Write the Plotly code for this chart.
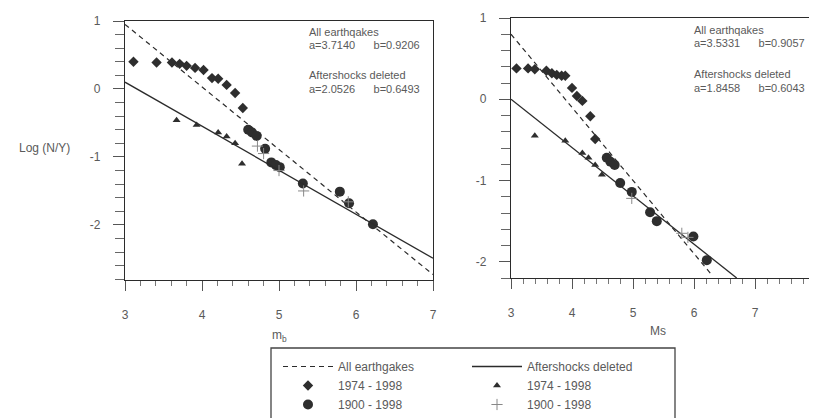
import plotly.graph_objects as go

W, H = 817, 418
OFF = 8  # page body margin offset in the browser

# ---- data: left panel (mb) ----
diam_l_x = [3.11, 3.41, 3.61, 3.71, 3.80, 3.91, 4.02, 4.13, 4.21, 4.32, 4.43, 4.53]
diam_l_y = [0.40, 0.39, 0.39, 0.37, 0.34, 0.31, 0.28, 0.16, 0.15, 0.06, -0.06, -0.28]
circ_l_x = [4.60, 4.65, 4.71, 4.82, 4.90, 4.96, 5.01, 5.31, 5.79, 5.91, 6.22]
circ_l_y = [-0.60, -0.64, -0.69, -0.88, -1.08, -1.12, -1.15, -1.39, -1.51, -1.68, -1.99]
tri_l_x = [3.67, 3.93, 4.21, 4.32, 4.43, 4.52]
tri_l_y = [-0.46, -0.53, -0.64, -0.70, -0.80, -1.10]
cross_l_x = [4.72, 4.80, 5.00, 5.32, 5.90]
cross_l_y = [-0.84, -0.95, -1.20, -1.50, -1.66]
dash_l_x = [3.0, 7.0]
dash_l_y = [0.95, -2.73]
solid_l_x = [3.0, 7.0]
solid_l_y = [0.10, -2.49]

# ---- data: right panel (Ms) ----
diam_r_x = [3.09, 3.28, 3.39, 3.58, 3.67, 3.75, 3.83, 3.89, 4.00, 4.08, 4.17, 4.30, 4.38]
diam_r_y = [0.38, 0.38, 0.37, 0.35, 0.32, 0.30, 0.29, 0.29, 0.14, 0.04, -0.02, -0.21, -0.49]
circ_r_x = [4.57, 4.63, 4.70, 4.79, 4.98, 5.28, 5.39, 5.99, 6.21]
circ_r_y = [-0.72, -0.77, -0.81, -1.03, -1.14, -1.39, -1.50, -1.69, -1.98]
tri_r_x = [3.39, 3.89, 4.17, 4.27, 4.38, 4.49]
tri_r_y = [-0.45, -0.51, -0.66, -0.72, -0.81, -0.93]
cross_r_x = [4.98, 5.80, 5.90]
cross_r_y = [-1.22, -1.65, -1.70]
dash_r_x = [3.0, 6.3]
dash_r_y = [0.80, -2.17]
solid_r_x = [3.0, 6.7]
solid_r_y = [0.0, -2.20]

# ---- text / ticks ----
left_text = ["All earthqakes", "a=3.7140      b=0.9206", "Aftershocks deleted", "a=2.0526      b=0.6493"]
right_text = ["All earthqakes", "a=3.5331      b=0.9057", "Aftershocks deleted", "a=1.8458      b=0.6043"]
y_ticks = [-2, -1, 0, 1]
y_ticktext = ["-2", "-1", "0", "1"]
x_ticks_left = [3, 4, 5, 6, 7]
x_ticks_right = [3, 4, 5, 6, 7]

LINE = "#2b2b2b"
MARK = "#2e2e2e"
TXT = "#5a5a5a"
FONT = "Liberation Sans, Arial, sans-serif"

fig = go.Figure()

def add_panel(xa, ya, dx, dy, sx, sy, dmx, dmy, cx, cy, tx, ty, kx, ky, show):
    fig.add_trace(go.Scatter(x=dx, y=dy, mode="lines", name="All earthgakes",
                             line=dict(color=LINE, width=1.2, dash="5px,4px"),
                             xaxis=xa, yaxis=ya, showlegend=show, legend="legend"))
    fig.add_trace(go.Scatter(x=dmx, y=dmy, mode="markers", name="1974 - 1998",
                             marker=dict(symbol="diamond", size=8, color=MARK),
                             xaxis=xa, yaxis=ya, showlegend=show, legend="legend"))
    fig.add_trace(go.Scatter(x=cx, y=cy, mode="markers", name="1900 - 1998",
                             marker=dict(symbol="circle", size=10, color=MARK),
                             xaxis=xa, yaxis=ya, showlegend=show, legend="legend"))
    fig.add_trace(go.Scatter(x=sx, y=sy, mode="lines", name="Aftershocks deleted",
                             line=dict(color=LINE, width=1.3),
                             xaxis=xa, yaxis=ya, showlegend=show, legend="legend2"))
    fig.add_trace(go.Scatter(x=tx, y=ty, mode="markers", name="1974 - 1998",
                             marker=dict(symbol="triangle-up", size=7, color=MARK),
                             xaxis=xa, yaxis=ya, showlegend=show, legend="legend2"))
    fig.add_trace(go.Scatter(x=kx, y=ky, mode="markers", name="1900 - 1998",
                             marker=dict(symbol="cross-thin", size=8, color="#888",
                                         line=dict(color="#888", width=1)),
                             xaxis=xa, yaxis=ya, showlegend=show, legend="legend2"))

add_panel("x", "y", dash_l_x, dash_l_y, solid_l_x, solid_l_y, diam_l_x, diam_l_y,
          circ_l_x, circ_l_y, tri_l_x, tri_l_y, cross_l_x, cross_l_y, True)
add_panel("x2", "y2", dash_r_x, dash_r_y, solid_r_x, solid_r_y, diam_r_x, diam_r_y,
          circ_r_x, circ_r_y, tri_r_x, tri_r_y, cross_r_x, cross_r_y, False)

def px_x(p):
    return (p - OFF) / W

def px_y(p):
    return 1 - (p - OFF) / H

axis_common = dict(showgrid=False, zeroline=False, showline=True, linecolor=LINE,
                   linewidth=1.3, ticks="outside", tickcolor="#555", tickwidth=1,
                   automargin=False,
                   tickfont=dict(size=12, color=TXT, family=FONT))

xcommon = dict(axis_common, ticklen=10, ticklabelstandoff=13,
               minor=dict(dtick=0.2, tick0=0, ticks="outside", ticklen=5, tickcolor="#777", showgrid=False))
ycommon = dict(axis_common, tickvals=y_ticks, ticktext=y_ticktext, ticklen=11,
               ticklabelstandoff=10,
               minor=dict(dtick=0.2, tick0=0, ticks="outside", ticklen=9, tickcolor="#666", showgrid=False))

fig.update_layout(
    width=W, height=H,
    margin=dict(l=0, r=0, t=0, b=0, autoexpand=False),
    paper_bgcolor="white", plot_bgcolor="white",
    font=dict(family=FONT, color=TXT),
    xaxis=dict(xcommon, tickvals=x_ticks_left, domain=[px_x(125), px_x(433)], range=[3, 7],
               anchor="y", mirror=True),
    yaxis=dict(ycommon, domain=[px_y(280), px_y(21)], range=[-2.81, 1], anchor="x", mirror=True),
    xaxis2=dict(xcommon, tickvals=x_ticks_right, domain=[px_x(511), px_x(816)], range=[3, 8],
                anchor="y2", mirror=True),
    yaxis2=dict(ycommon, domain=[px_y(278), px_y(18)], range=[-2.2, 1], anchor="x2"),
    legend=dict(x=px_x(278), y=px_y(352), xanchor="left", yanchor="top",
                bgcolor="rgba(0,0,0,0)", font=dict(size=12, color=TXT, family=FONT),
                itemwidth=50, tracegroupgap=0),
    legend2=dict(x=px_x(467), y=px_y(352), xanchor="left", yanchor="top",
                 bgcolor="rgba(0,0,0,0)", font=dict(size=12, color=TXT, family=FONT),
                 itemwidth=50, tracegroupgap=0),
    showlegend=True,
)

# legend frame
fig.add_shape(type="rect", xref="paper", yref="paper",
              x0=px_x(271), x1=px_x(675), y0=px_y(440), y1=px_y(348),
              line=dict(color="#444", width=1.3), fillcolor="rgba(0,0,0,0)")

ann = []
for t, yy in zip(left_text, [32, 45, 75, 89]):
    ann.append(dict(text=t, x=px_x(307), y=px_y(yy), xref="paper", yref="paper",
                    xanchor="left", yanchor="middle", showarrow=False,
                    font=dict(size=11, color=TXT, family=FONT)))
for t, yy in zip(right_text, [30, 43, 74, 88]):
    ann.append(dict(text=t, x=px_x(692), y=px_y(yy), xref="paper", yref="paper",
                    xanchor="left", yanchor="middle", showarrow=False,
                    font=dict(size=11, color=TXT, family=FONT)))
ann.append(dict(text="Log (N/Y)", x=px_x(44), y=px_y(148), xref="paper", yref="paper",
                xanchor="center", yanchor="middle", showarrow=False,
                font=dict(size=12, color=TXT, family=FONT)))
ann.append(dict(text="m<sub>b</sub>", x=px_x(279), y=px_y(336), xref="paper", yref="paper",
                xanchor="center", yanchor="middle", showarrow=False,
                font=dict(size=12, color=TXT, family=FONT)))
ann.append(dict(text="Ms", x=px_x(658), y=px_y(331), xref="paper", yref="paper",
                xanchor="center", yanchor="middle", showarrow=False,
                font=dict(size=12, color=TXT, family=FONT)))
fig.update_layout(annotations=ann)

fig.write_html("out.html")
